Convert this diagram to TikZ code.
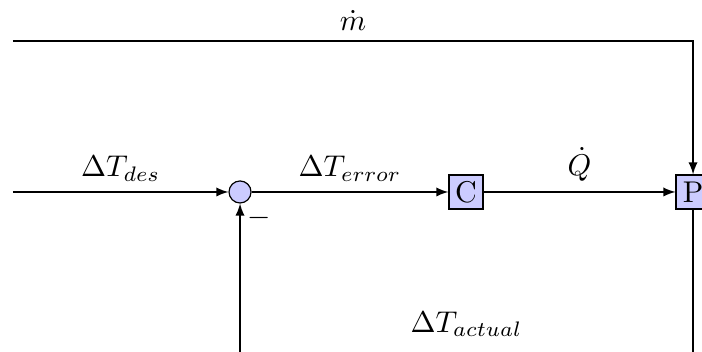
\documentclass[tikz,border=0pt]{standalone}
\begin{document}
\begin{tikzpicture}[x=1mm,y=1mm,>=latex,
   block/.style={draw,fill=blue!20,minimum size=3.98mm,inner sep=1pt},
   sum/.style={draw,circle,fill=blue!20,minimum size=2.58mm,inner sep=0pt}]
   \useasboundingbox (0,0) rectangle (82.24,41.12);
   %blocks
   \node[sum] (sum) at (28.12,18.63) {};
   \node[block] (ctrl) at (54.59,18.63) {C};
   \node[block] (plant) at (81.19,18.63) {P};
   \node (minus) at (30.34,15.58) {$-$};
   %ends
   \coordinate (in) at (1.52,18.63);
   \coordinate (mtop) at (1.52,36.32);
   \coordinate (fb) at (0,-1);
   %forward path
   \draw[->] (in) -- (sum) node[midway,above] {$\Delta T_{des}$};
   \draw[->] (sum) -- (ctrl) node[midway,above] {$\Delta T_{error}$};
   \draw[->] (ctrl) -- (plant) node[midway,above] {$\dot{Q}$};
   \draw[->] (mtop) -- (mtop -| plant) node[midway,above] {$\dot{m}$} -- (plant);
   %feedback
   \draw[->] (plant) -- (plant |- fb) -- (sum |- fb) node[midway,above=1.4mm] {$\Delta T_{actual}$} -- (sum);
\end{tikzpicture}
\end{document}
